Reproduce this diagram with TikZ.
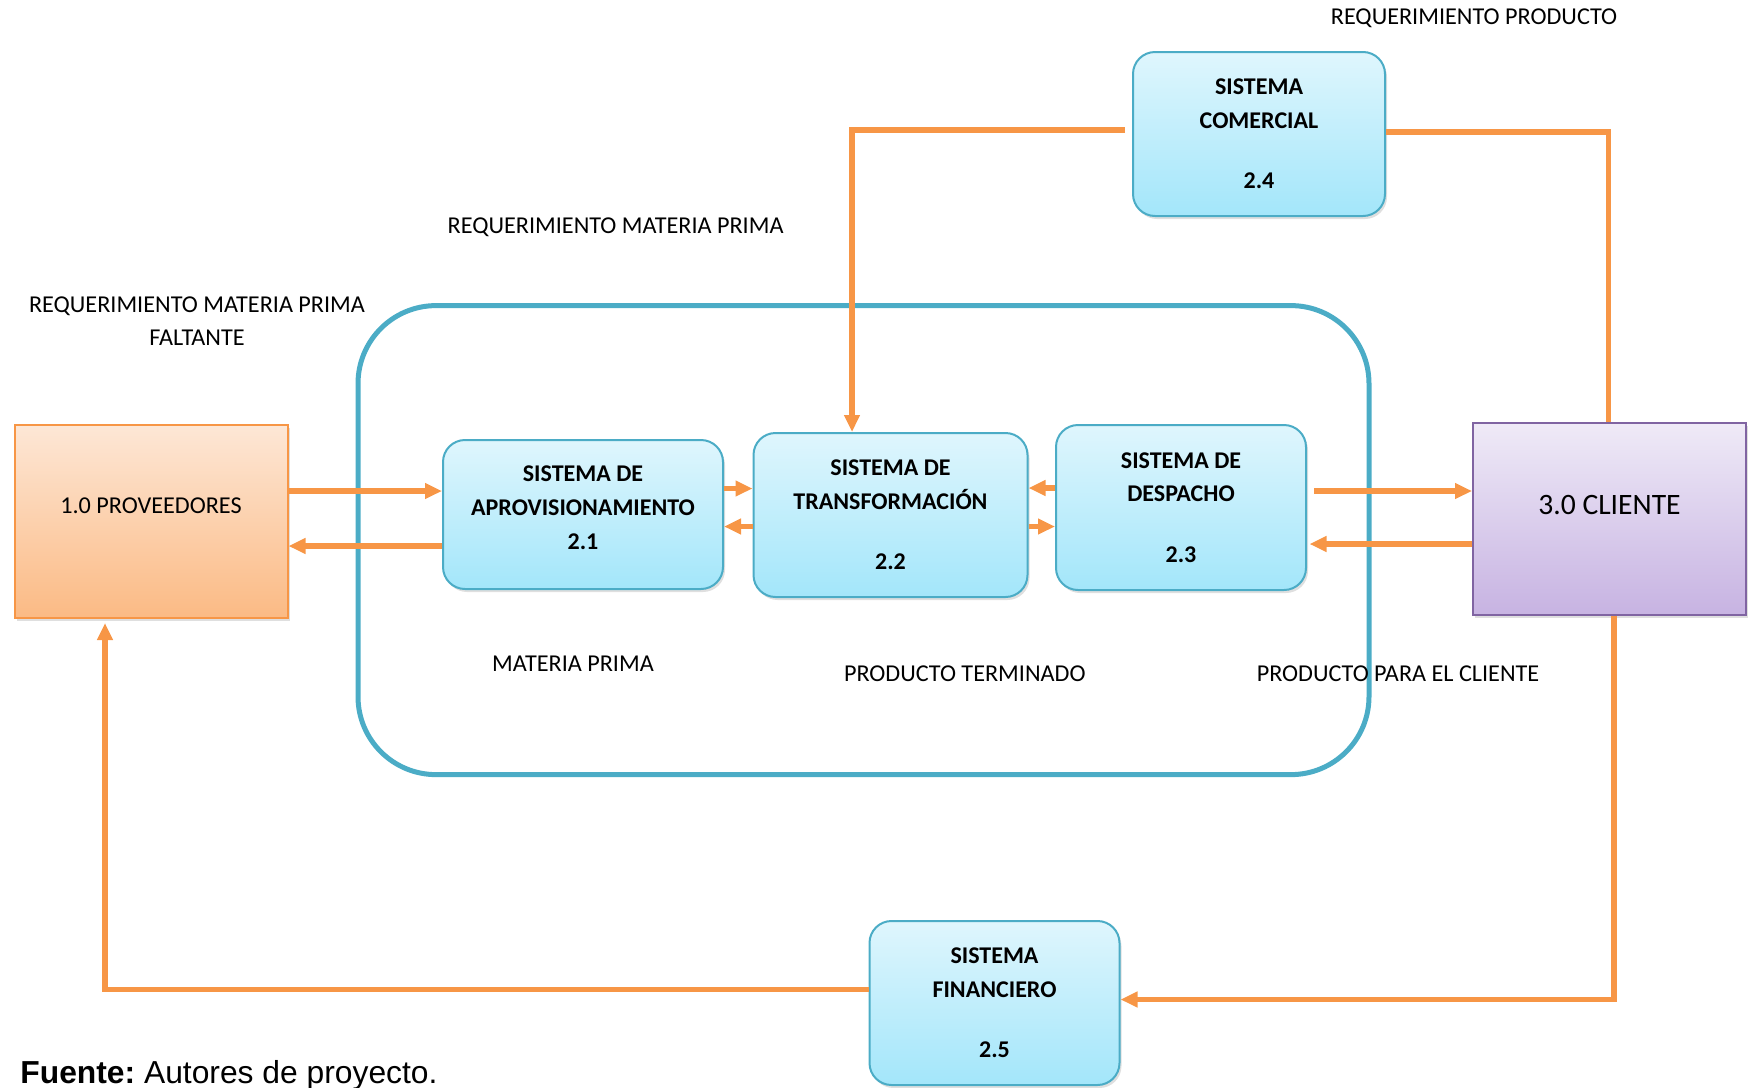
\documentclass[tikz,border=0pt]{standalone}
\usepackage{fontspec}
\setmainfont{Carlito}
\newfontfamily\fuentefont{Liberation Sans}
\usetikzlibrary{arrows.meta,shadows}
\definecolor{naranja}{HTML}{F79646}
\definecolor{marco}{HTML}{4BACC6}
\definecolor{cielotop}{HTML}{DFF6FD}
\definecolor{cielobot}{HTML}{A3E6FA}
\definecolor{provtop}{HTML}{FDE7D6}
\definecolor{provbot}{HTML}{FBBA84}
\definecolor{clitop}{HTML}{EFEAF7}
\definecolor{clibot}{HTML}{C7B3E2}
\definecolor{morado}{HTML}{8064A2}
\tikzset{
  proceso/.style={rectangle, rounded corners=11pt, draw=marco, line width=1pt,
    top color=cielotop, bottom color=cielobot, align=center,
    font=\bfseries\fontsize{12}{16.8}\selectfont,
    drop shadow={opacity=0.25, shadow xshift=1pt, shadow yshift=-1.5pt}},
  externo/.style={rectangle, line width=1pt, align=center,
    drop shadow={opacity=0.25, shadow xshift=1pt, shadow yshift=-1.5pt}},
  flecha/.style={draw=naranja, line width=2.6pt, -{Triangle[length=8.5pt,width=7.5pt]}},
  linea/.style={draw=naranja, line width=2.6pt},
  etiqueta/.style={anchor=base, font=\fontsize{12.1}{16.8}\selectfont}
}
\begin{document}
\begin{tikzpicture}[x=0.5pt,y=-0.5pt]
      \useasboundingbox (0,0) rectangle (1755,1087);
      %contorno
      \draw[marco, line width=2.5pt, rounded corners=39pt] (358,305.6) rectangle (1369,774.6);
      %entidades
      \node[externo, draw=naranja, top color=provtop, bottom color=provbot,
        minimum width=136.5pt, minimum height=96.5pt, text depth=15.6pt,
        font=\fontsize{12.1}{14}\selectfont]
        (prov) at (151,521.5) {1.0 PROVEEDORES};
      \node[externo, draw=morado, top color=clitop, bottom color=clibot,
        minimum width=136.5pt, minimum height=96pt, text depth=14.5pt,
        font=\fontsize{14.8}{17}\selectfont]
        (cliente) at (1609.5,519) {3.0 CLIENTE};
      %procesos
      \node[proceso, minimum width=140pt, minimum height=74.5pt, text depth=6.8pt] (p21) at (583,514.5)
        {SISTEMA DE\\APROVISIONAMIENTO\\2.1};
      \node[proceso, minimum width=137pt, minimum height=82pt] (p22) at (890.5,515)
        {SISTEMA DE\\TRANSFORMACIÓN\\[13.4pt]2.2};
      \node[proceso, minimum width=125pt, minimum height=82.5pt] (p23) at (1181,507.5)
        {SISTEMA DE\\DESPACHO\\[13.4pt]2.3};
      \node[proceso, minimum width=126pt, minimum height=82pt] (p24) at (1259,134)
        {SISTEMA\\COMERCIAL\\[13.4pt]2.4};
      \node[proceso, minimum width=125pt, minimum height=82pt] (p25) at (994.5,1003)
        {SISTEMA\\FINANCIERO\\[13.4pt]2.5};
      %flujos
      \draw[flecha] ([yshift=15.25pt]prov.east) -- ([yshift=15.25pt]prov.east -| p21.west);
      \draw[flecha] ([yshift=-15.75pt]p21.west) -- ([yshift=-15.75pt]p21.west -| prov.east);
      \draw[flecha] ([yshift=13pt]p21.east) -- ([yshift=13pt]p21.east -| p22.west);
      \draw[flecha] ([yshift=-5.75pt]p22.west) -- ([yshift=-5.75pt]p22.west -| p21.east);
      \draw[flecha] ([yshift=9.75pt]p23.west) -- ([yshift=9.75pt]p23.west -| p22.east);
      \draw[flecha] ([yshift=-5.75pt]p22.east) -- ([yshift=-5.75pt]p22.east -| p23.west);
      \draw[flecha] ([xshift=3.5pt,yshift=8.25pt]p23.east) -- ([yshift=8.25pt]p23.east -| cliente.west);
      \draw[flecha] ([yshift=-12.5pt]cliente.west) -- ([xshift=1.25pt,yshift=-12.5pt]cliente.west -| p23.east);
      \draw[flecha] ([xshift=-3.5pt,yshift=2pt]p24.west) -| ([xshift=-19.25pt]p22.north);
      \draw[linea] ([yshift=1pt]p24.east) -| ([xshift=-0.5pt]cliente.north);
      \draw[flecha] ([xshift=2.25pt]cliente.south) |- ([yshift=1.75pt]p25.east);
      \draw[flecha] ([yshift=6.75pt]p25.west) -| ([xshift=-23pt,yshift=-2pt]prov.south);
      %etiquetas
      \node[etiqueta] (reqprod) at (1474,24.5) {REQUERIMIENTO PRODUCTO};
      \node[etiqueta] (reqmp) at (615.6,233.5) {REQUERIMIENTO MATERIA PRIMA};
      \node[etiqueta, align=center, anchor=center] (reqfalt) at (197,321)
        {REQUERIMIENTO MATERIA PRIMA\\FALTANTE};
      \node[etiqueta] (mp) at (573,671.2) {MATERIA PRIMA};
      \node[etiqueta] (pt) at (964.8,681.3) {PRODUCTO TERMINADO};
      \node[etiqueta] (ppc) at (1398,681.3) {PRODUCTO PARA EL CLIENTE};
      \node[anchor=base west, inner sep=0pt, font=\fuentefont\fontsize{15.9}{18}\selectfont]
        (fuente) at (20,1083) {\textbf{Fuente:}\ Autores de proyecto.};
    \end{tikzpicture}
\end{document}
